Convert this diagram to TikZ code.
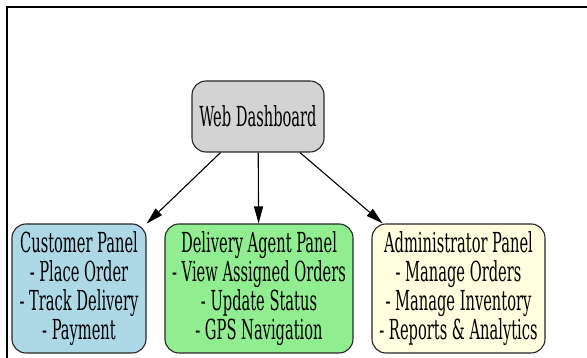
\documentclass[tikz,border=0pt]{standalone}
\usepackage{fontspec}
\setmainfont[FakeStretch=0.59]{DejaVu Serif Condensed}
\usetikzlibrary{arrows.meta}
\definecolor{gvgray}{HTML}{D3D3D3}
\definecolor{gvblue}{HTML}{ADD8E6}
\definecolor{gvgreen}{HTML}{90EE90}
\definecolor{gvyellow}{HTML}{FFFFE0}
\tikzset{
  box/.style={draw=black!85, line width=1.1pt, rounded corners=14pt, align=center,
    font=\fontsize{27.6}{29}\selectfont, inner sep=0pt},
  conn/.style={line width=1.1pt, -{Triangle[length=17pt,width=9pt]}},
}
\begin{document}
\begin{tikzpicture}[x=1pt,y=1pt]
\useasboundingbox (0,0) rectangle (587,358);
\begin{scope}
\clip (0,0) rectangle (587,358);
\draw[line width=2.2pt] (7,-20) -- (7,351) -- (620,351);
\end{scope}
\node[box, fill=gvgray, minimum width=132pt, minimum height=71pt] (web) at (258,241.5) {Web Dashboard};
\node[box, fill=gvblue, minimum width=134pt, minimum height=129pt] (cust) at (79,69.5)
  {Customer Panel\\- Place Order\\- Track Delivery\\- Payment};
\node[box, fill=gvgreen, minimum width=188pt, minimum height=129pt] (agent) at (259,69.5)
  {Delivery Agent Panel\\- View Assigned Orders\\- Update Status\\- GPS Navigation};
\node[box, fill=gvyellow, minimum width=173pt, minimum height=129pt] (admin) at (458.5,69.5)
  {Administrator Panel\\- Manage Orders\\- Manage Inventory\\- Reports \& Analytics};
\draw[conn] (web) -- (cust);
\draw[conn] (web) -- (agent);
\draw[conn] (web) -- (admin);
\end{tikzpicture}
\end{document}
